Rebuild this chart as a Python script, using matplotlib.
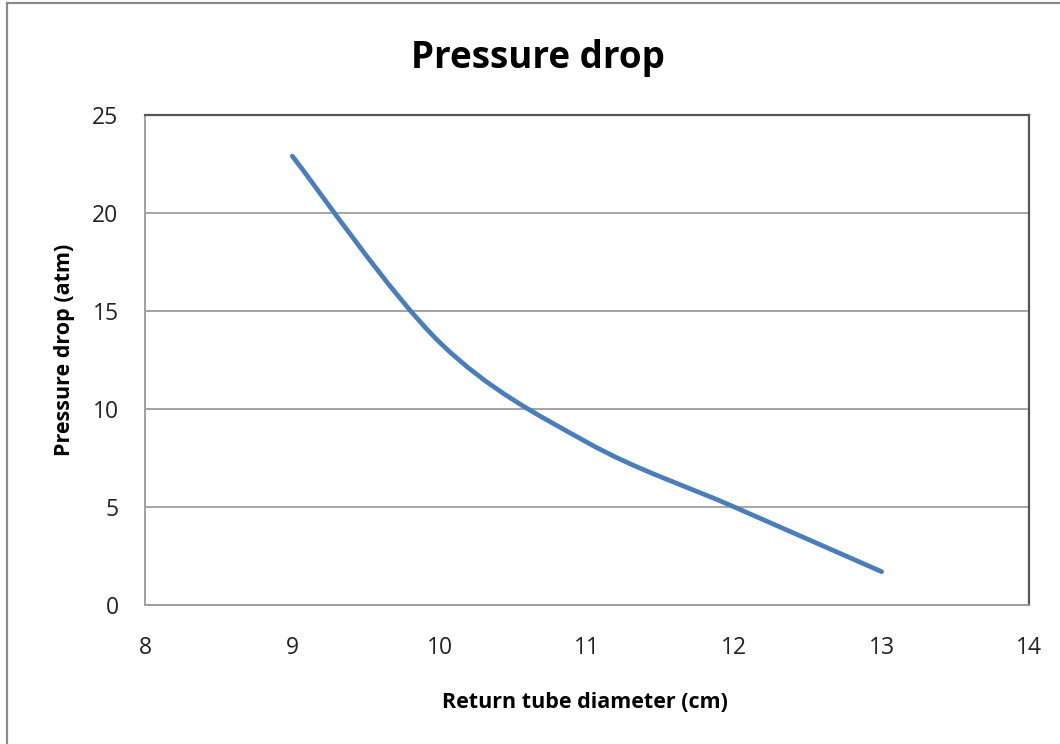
import matplotlib
matplotlib.use("Agg")
import matplotlib.pyplot as plt
from matplotlib.path import Path
from matplotlib.patches import PathPatch
from matplotlib.lines import Line2D
import numpy as np

# Data
diameter_cm = [9, 10, 11, 12, 13]
pressure_drop_atm = [22.9, 13.4, 8.3, 5.0, 1.7]
x_ticks = [8, 9, 10, 11, 12, 13, 14]
y_ticks = [0, 5, 10, 15, 20, 25]
title = "Pressure drop"
x_label = "Return tube diameter (cm)"
y_label = "Pressure drop (atm)"

FONT = "Open Sans"
plt.rcParams["font.family"] = [FONT, "DejaVu Sans"]

W, H = 1060, 744
fig = plt.figure(figsize=(W / 100, H / 100), dpi=100)
fig.patch.set_facecolor("white")

left, right, top, bottom = 145, 1029, 115, 605
ax = fig.add_axes([left / W, 1 - bottom / H, (right - left) / W, (bottom - top) / H])

# smoothed line (Excel-like cardinal Bezier through the data points)
xs = np.asarray(diameter_cm, float)
ys = np.asarray(pressure_drop_atm, float)
n = len(xs)
verts = [(xs[0], ys[0])]
codes = [Path.MOVETO]
for i in range(n - 1):
    p0 = np.array([xs[max(i - 1, 0)], ys[max(i - 1, 0)]])
    p1 = np.array([xs[i], ys[i]])
    p2 = np.array([xs[i + 1], ys[i + 1]])
    p3 = np.array([xs[min(i + 2, n - 1)], ys[min(i + 2, n - 1)]])
    c1 = p1 + (p2 - p0) / 6.0
    c2 = p2 - (p3 - p1) / 6.0
    verts += [tuple(c1), tuple(c2), tuple(p2)]
    codes += [Path.CURVE4] * 3
patch = PathPatch(Path(verts, codes), facecolor="none", edgecolor="#4A7EBB",
                  linewidth=3.4, capstyle="round", joinstyle="round", zorder=3)
ax.add_patch(patch)

ax.set_xlim(8, 14)
ax.set_ylim(0, 25)
ax.set_xticks(x_ticks)
ax.set_yticks(y_ticks)
ax.set_xticklabels([str(t) for t in x_ticks])
ax.set_yticklabels([str(t) for t in y_ticks])
ax.tick_params(axis="both", length=0, labelsize=16.5, labelcolor="#222222")
ax.tick_params(axis="y", pad=19)
ax.tick_params(axis="x", pad=22)
ax.grid(axis="y", color="#8c8c8c", linewidth=1.1)
ax.set_axisbelow(True)
for s in ["top", "right"]:
    ax.spines[s].set_color("#555555")
    ax.spines[s].set_linewidth(1.6)
for s in ["left", "bottom"]:
    ax.spines[s].set_color("#9a9a9a")
    ax.spines[s].set_linewidth(1.3)

fig.text(538 / W, 1 - 68 / H, title, ha="center", va="baseline",
         fontsize=26.5, fontweight="bold", color="black")
fig.text(585 / W, 1 - 708 / H, x_label, ha="center", va="baseline",
         fontsize=15.5, fontweight="bold", color="black")
fig.text(70 / W, 1 - 350 / H, y_label, ha="center", va="baseline", rotation=90,
         rotation_mode="anchor", fontsize=15.5, fontweight="bold", color="black")

# outer chart frame (left and top edges visible)
fig.add_artist(Line2D([7 / W, 7 / W], [0, 1 - 3 / H], transform=fig.transFigure,
                      color="#8a8a8a", linewidth=1.6))
fig.add_artist(Line2D([7 / W, 1], [1 - 3 / H, 1 - 3 / H], transform=fig.transFigure,
                      color="#8a8a8a", linewidth=1.6))

fig.savefig("out.png", dpi=100, facecolor="white")
